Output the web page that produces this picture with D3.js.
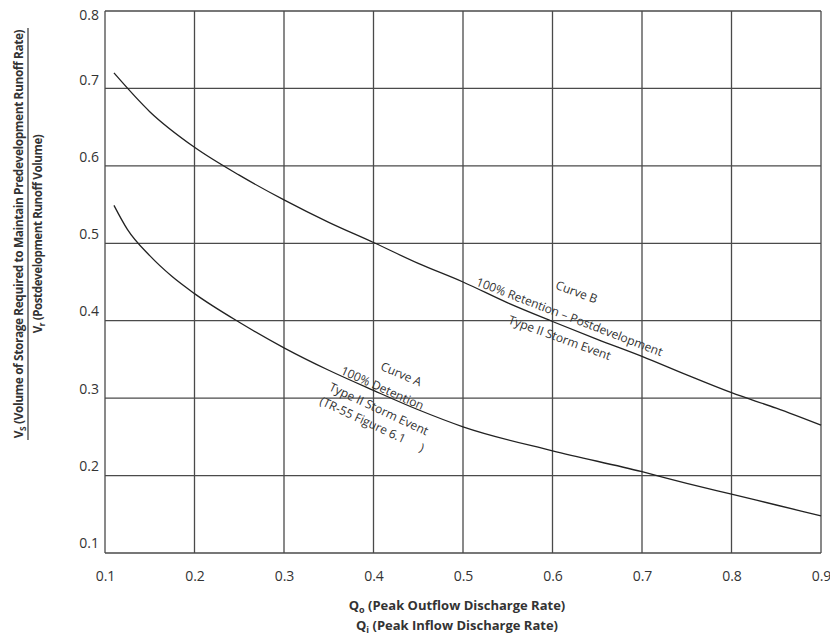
<!DOCTYPE html>
<html>
<head>
<meta charset="utf-8">
<script src="https://cdn.jsdelivr.net/npm/d3@7"></script>
<style>
  body { margin: 0; background: #fff; }
  text { font-family: "Open Sans", "Noto Sans", sans-serif; fill: #333; }
</style>
</head>
<body>
<div id="wrapper"></div>
<script>
width = 830
height = 643

// plot frame, in pixels
left = 105
right = 821
top_ = 11
bottom = 553

var xTicks = [0.1, 0.2, 0.3, 0.4, 0.5, 0.6, 0.7, 0.8, 0.9]
var yTicks = [0.1, 0.2, 0.3, 0.4, 0.5, 0.6, 0.7, 0.8]

// Curve A - 100% detention
var curveAQ = [0.11, 0.125, 0.15, 0.175, 0.2, 0.25, 0.3, 0.35, 0.4, 0.45, 0.5, 0.6, 0.7, 0.75, 0.8, 0.85, 0.9]
var curveAV = [0.549, 0.518, 0.484, 0.457, 0.435, 0.398, 0.365, 0.336, 0.31, 0.285, 0.263, 0.232, 0.205, 0.19, 0.176, 0.162, 0.148]

// Curve B - 100% retention
var curveBQ = [0.11, 0.15, 0.2, 0.25, 0.3, 0.35, 0.4, 0.45, 0.5, 0.55, 0.6, 0.65, 0.7, 0.75, 0.8, 0.85, 0.9]
var curveBV = [0.72, 0.67, 0.624, 0.588, 0.556, 0.527, 0.501, 0.474, 0.45, 0.423, 0.399, 0.376, 0.354, 0.33, 0.307, 0.287, 0.265]

var annotations = [
    { text: "Curve B", q: 0.627, v: 0.437, angle: 20 },
    { text: "100% Retention \u2013 Postdevelopment", q: 0.619, v: 0.405, angle: 21 },
    { text: "Type II Storm Event", q: 0.608, v: 0.378, angle: 20 },
    { text: "Curve A", q: 0.431, v: 0.331, angle: 23 },
    { text: "100% Detention", q: 0.41, v: 0.313, angle: 24 },
    { text: "Type II Storm Event", q: 0.406, v: 0.286, angle: 25 },
    { text: "(TR-55 Figure 6.1", q: 0.388, v: 0.272, angle: 25 },
    { text: ")", q: 0.454, v: 0.236, angle: 25 }
]

const svg = d3.select("#wrapper").append("svg")
    .attr("width", width)
    .attr("height", height)

var x = d3.scaleLinear().domain([0.1, 0.9]).range([left, right])
var y = d3.scaleLinear().domain([0.1, 0.8]).range([bottom, top_])
// tick labels sit a little above the grid lines in the original
var yLabel = d3.scaleLinear().domain([0.1, 0.7, 0.8]).range([543, 80, 15])

// grid
svg.append("g")
    .selectAll("line")
    .data(xTicks)
    .join("line")
    .attr("x1", d => x(d)).attr("x2", d => x(d))
    .attr("y1", top_).attr("y2", bottom)
    .attr("stroke", "#4a4a4a")
    .attr("stroke-width", 1.3)

svg.append("g")
    .selectAll("line")
    .data(yTicks)
    .join("line")
    .attr("x1", left).attr("x2", right)
    .attr("y1", d => y(d)).attr("y2", d => y(d))
    .attr("stroke", "#4a4a4a")
    .attr("stroke-width", 1.3)

// axes (labels only)
svg.append("g")
    .attr("transform", `translate(0,${bottom})`)
    .call(d3.axisBottom(x).tickValues(xTicks).tickSize(0).tickPadding(18).tickFormat(d3.format(".1f")))
    .call(g => g.select(".domain").remove())
    .call(g => g.selectAll("text").style("font-size", "14px").attr("fill", "#444"))

svg.append("g")
    .attr("transform", `translate(${left - 6},0)`)
    .call(d3.axisLeft(yLabel).tickValues(yTicks).tickSize(0).tickPadding(0).tickFormat(d3.format(".1f")))
    .call(g => g.select(".domain").remove())
    .call(g => g.selectAll("text").style("font-size", "14px").attr("fill", "#444"))

// curves
var line = d3.line()
    .x(d => x(d[0]))
    .y(d => y(d[1]))
    .curve(d3.curveMonotoneX)

svg.append("path")
    .datum(d3.zip(curveAQ, curveAV))
    .attr("d", line)
    .attr("fill", "none")
    .attr("stroke", "#222")
    .attr("stroke-width", 1.3)

svg.append("path")
    .datum(d3.zip(curveBQ, curveBV))
    .attr("d", line)
    .attr("fill", "none")
    .attr("stroke", "#222")
    .attr("stroke-width", 1.3)

// curve notes
svg.append("g")
    .selectAll("text")
    .data(annotations)
    .join("text")
    .attr("transform", d => `translate(${x(d.q)},${y(d.v)}) rotate(${d.angle})`)
    .attr("text-anchor", "middle")
    .attr("dy", "0.35em")
    .style("font-size", "12px")
    .text(d => d.text)

// x axis title
var xTitle = svg.append("g")
    .attr("text-anchor", "middle")
    .style("font-size", "13px")
    .style("font-weight", "bold")

var t1 = xTitle.append("text").attr("x", 457).attr("y", 610)
t1.append("tspan").text("Q")
t1.append("tspan").text("o").style("font-size", "9px").attr("dy", 3)
t1.append("tspan").text(" (Peak Outflow Discharge Rate)").attr("dy", -3)

var t2 = xTitle.append("text").attr("x", 457).attr("y", 630)
t2.append("tspan").text("Q")
t2.append("tspan").text("i").style("font-size", "9px").attr("dy", 3)
t2.append("tspan").text(" (Peak Inflow Discharge Rate)").attr("dy", -3)

// y axis title, written as a fraction
var yTitle = svg.append("g")
    .attr("transform", "translate(0,234) rotate(-90)")
    .attr("text-anchor", "middle")
    .style("font-weight", "bold")
    .style("letter-spacing", "-0.4px")

function fitText(sel, wanted, size) {
    sel.style("font-size", size + "px")
    var len = sel.node().getComputedTextLength()
    if (len > wanted) sel.style("font-size", (size * wanted / len).toFixed(2) + "px")
}

var y1 = yTitle.append("text").attr("x", 0).attr("y", 23)
y1.append("tspan").text("V")
y1.append("tspan").text("S").style("font-size", "0.7em").attr("dy", 3)
y1.append("tspan").text(" (Volume of Storage Required to Maintain Predevelopment Runoff Rate)").attr("dy", -3)
fitText(y1, 410, 12.5)

yTitle.append("line")
    .attr("x1", -206).attr("x2", 206)
    .attr("y1", 28).attr("y2", 28)
    .attr("stroke", "#333")
    .attr("stroke-width", 1.2)

var y2 = yTitle.append("text").attr("x", 0).attr("y", 42)
y2.append("tspan").text("V")
y2.append("tspan").text("r").style("font-size", "0.7em").attr("dy", 3)
y2.append("tspan").text(" (Postdevelopment Runoff Volume)").attr("dy", -3)
fitText(y2, 200, 12.5)
</script>
</body>
</html>
